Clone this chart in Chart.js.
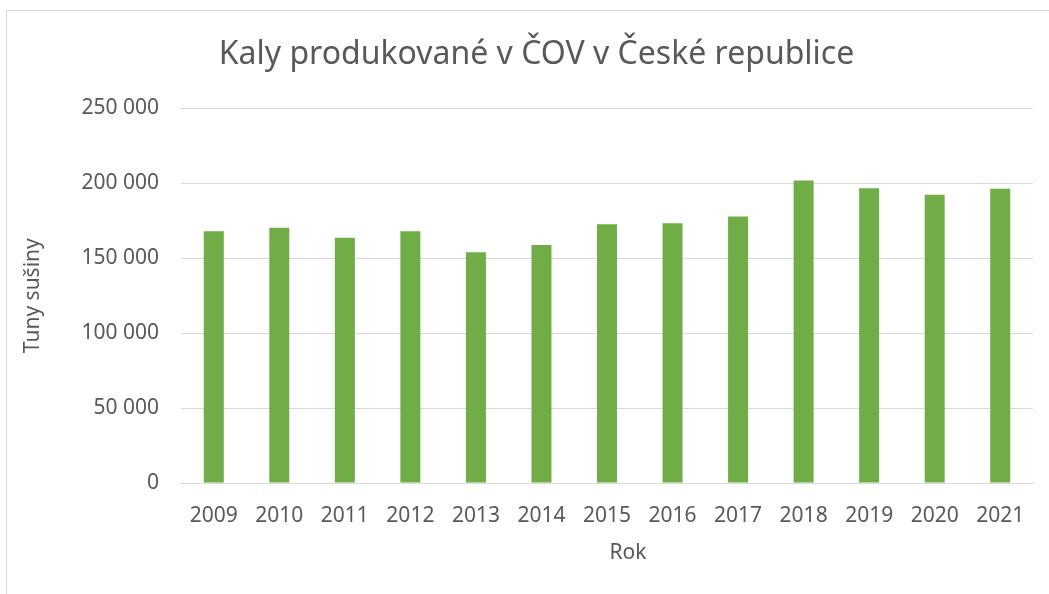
<!DOCTYPE html>
<html lang="cs">
<head>
<meta charset="UTF-8">
<title>Kaly produkované v ČOV v České republice</title>
<script src="https://cdn.jsdelivr.net/npm/chart.js"></script>
<style>
  html, body { margin: 0; padding: 0; background: #fff; overflow: hidden; }
  #frame { position: absolute; left: 6px; top: 10px; width: 2000px; height: 2000px; border: 1px solid #d9d9d9; }
  #wrap { position: absolute; left: 0; top: 0; width: 1049px; height: 594px; }
</style>
</head>
<body>
<div id="frame"></div>
<div id="wrap"><canvas id="chart" width="1049" height="594"></canvas></div>
<script>
  const years = ['2009', '2010', '2011', '2012', '2013', '2014', '2015', '2016', '2017', '2018', '2019', '2020', '2021'];
  const sludge = [168000, 170300, 163600, 168000, 154000, 158900, 172700, 173400, 177800, 201800, 196700, 192300, 196300];
  const yTicks = [0, 50000, 100000, 150000, 200000, 250000];

  const grey = '#595959';
  const fmt = v => String(v).replace(/\B(?=(\d{3})+(?!\d))/g, ' ');

  // left padding keeps the title centred like the original, y axis gets the rest
  const padLeft = 40;

  new Chart(document.getElementById('chart'), {
    type: 'bar',
    data: {
      labels: years,
      datasets: [{
        data: sludge,
        backgroundColor: '#70ad47',
        barPercentage: 0.305,
        categoryPercentage: 1
      }]
    },
    options: {
      responsive: false,
      animation: false,
      layout: { padding: { left: padLeft, right: 16, top: 0, bottom: 0 } },
      plugins: {
        legend: { display: false },
        tooltip: { enabled: false },
        title: {
          display: true,
          text: 'Kaly produkované v ČOV v České republice',
          color: grey,
          font: { family: 'Noto Sans', size: 32, weight: 'normal' },
          padding: { top: 36, bottom: 34 }
        }
      },
      scales: {
        x: {
          grid: { display: false, drawTicks: false },
          border: { color: '#d9d9d9', width: 1 },
          ticks: { color: grey, font: { family: 'Noto Sans', size: 21 }, padding: 20, maxRotation: 0 },
          title: {
            display: true, text: '\u2002\u2002\u2002\u2002Rok', color: grey,
            font: { family: 'Noto Sans', size: 21 },
            padding: { top: 0, bottom: 28 }
          },
          afterFit: s => { s.height = 111; }
        },
        y: {
          min: 0,
          max: 250000,
          afterBuildTicks: s => { s.ticks = yTicks.map(v => ({ value: v })); },
          grid: { color: '#d9d9d9', lineWidth: 1, drawTicks: false },
          border: { display: false },
          ticks: { color: grey, font: { family: 'Noto Sans', size: 21 }, padding: 22, callback: v => fmt(v) },
          title: {
            display: true, text: 'Tuny sušiny', color: grey,
            font: { family: 'Noto Sans', size: 21 },
            padding: { top: 33 - padLeft - 12.6, bottom: 0 }
          },
          afterFit: s => { s.width = 181 - padLeft; }
        }
      }
    }
  });
</script>
</body>
</html>
